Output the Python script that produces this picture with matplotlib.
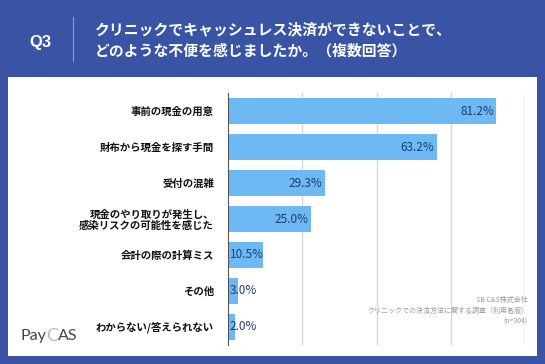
import matplotlib.pyplot as plt
from matplotlib.patches import Rectangle

plt.rcParams['font.family'] = ['Noto Sans CJK JP', 'DejaVu Sans']

categories = ['事前の現金の用意', '財布から現金を探す手間', '受付の混雑',
              '現金のやり取りが発生し、\n感染リスクの可能性を感じた',
              '会計の際の計算ミス', 'その他', 'わからない/答えられない']
values = [81.2, 63.2, 29.3, 25.0, 10.5, 3.0, 2.0]
title_lines = 'クリニックでキャッシュレス決済ができないことで、\nどのような不便を感じましたか。（複数回答）'
source_lines = 'SB C&S株式会社\nクリニックでの決済方法に関する調査（利用者版）\n(n=304)'

W, H = 545, 364
blue = '#3954a5'
bar_color = '#6db9f4'
label_color = '#1d3b73'

fig = plt.figure(figsize=(W / 100, H / 100), dpi=100)
fig.patch.set_facecolor(blue)

# white panel, drawn behind the axes
fig.patches.append(Rectangle((8 / W, (H - 356) / H), 529 / W, 279 / H,
                             transform=fig.transFigure, facecolor='white',
                             edgecolor='none', zorder=-5))

# header
fig.text(40 / W, 1 - 42 / H, 'Q3', color='white', fontsize=12, fontweight='bold',
         ha='center', va='center', family=['Liberation Sans', 'DejaVu Sans'])
fig.add_artist(plt.Line2D([73 / W, 73 / W], [1 - 17 / H, 1 - 61 / H],
                          transform=fig.transFigure, color='#8a9bcf', lw=0.8))
fig.text(95 / W, 1 - 40 / H, title_lines, color='white', fontsize=10.7,
         fontweight='bold', ha='left', va='center', linespacing=1.45)

ax = fig.add_axes([228 / W, (H - 345) / H, 297 / W, 252 / H])
ax.set_facecolor('none')
ypos = list(range(len(values)))
ax.barh(ypos, values, height=0.7, color=bar_color, zorder=2)
ax.set_xlim(0, 90)
ax.set_ylim(6.5, -0.5)
ax.set_xticks([22.5, 45, 67.5, 90])
ax.set_xticklabels([])
ax.tick_params(axis='x', length=0)
ax.grid(axis='x', color='#d6d6d6', lw=1.0, zorder=1)
ax.set_yticks(ypos)
ax.set_yticklabels(categories, fontsize=7.5, fontweight='bold', color='#111111',
                   linespacing=1.15)
ax.tick_params(axis='y', length=0, pad=10)
for s in ['top', 'right', 'bottom']:
    ax.spines[s].set_visible(False)
ax.spines['left'].set_color('#555555')
ax.spines['left'].set_linewidth(0.8)

for y, v in zip(ypos, values):
    if v >= 20:
        ax.text(v - 0.6, y, f'{v:.1f}%', ha='right', va='center', fontsize=8.5,
                color=label_color, zorder=3)
    else:
        ax.text(0.5, y, f'{v:.1f}%', ha='left', va='center', fontsize=8.5,
                color=label_color, zorder=3)

# source note
fig.text(528 / W, 1 - 311 / H, source_lines, color='#999999', fontsize=5,
         ha='right', va='center', linespacing=1.45)

# logo
fig.text(20 / W, 1 - 336 / H, 'Pay', color='#444444', fontsize=11.5,
         ha='left', va='center', family=['Lato', 'DejaVu Sans'])
fig.text(46 / W, 1 - 336 / H, 'C', color='#bbbbbb', fontsize=13,
         ha='left', va='center', family=['Lato', 'DejaVu Sans'])
fig.text(58 / W, 1 - 336 / H, 'AS', color='#444444', fontsize=11.5,
         ha='left', va='center', family=['Lato', 'DejaVu Sans'])

fig.savefig('out.png', dpi=100, facecolor=fig.get_facecolor())
